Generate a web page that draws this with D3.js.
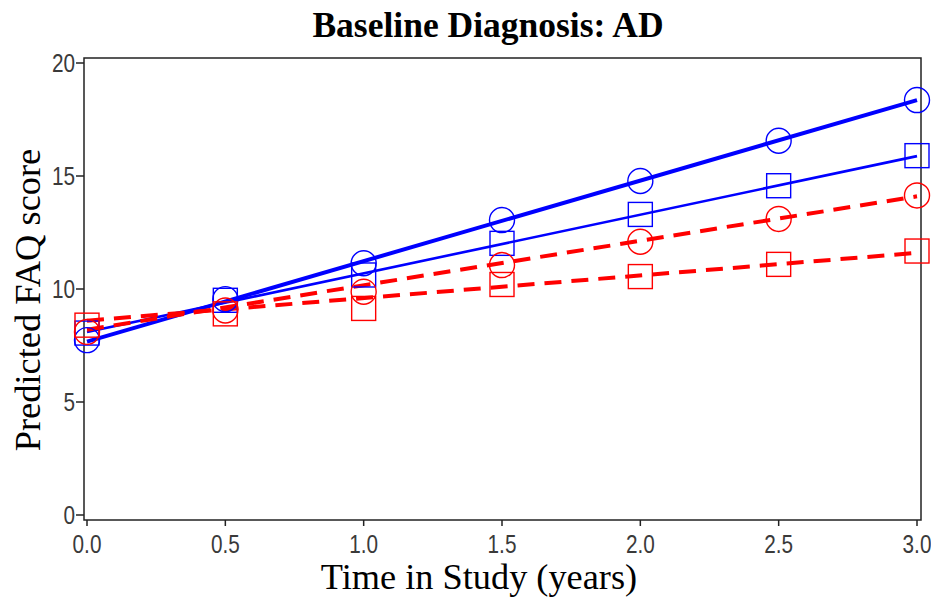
<!DOCTYPE html>
<html>
<head>
<meta charset="utf-8">
<script src="https://cdn.jsdelivr.net/npm/d3@7"></script>
<style>
  body { margin: 0; background: #fff; }
  .tick-label { font-family: "Liberation Sans", Arial, sans-serif; font-size: 25px; fill: #3a3a3a; }
  .serif { font-family: "Liberation Serif", "Times New Roman", serif; fill: #000; }
</style>
</head>
<body>
<script>
const width = 931;
const height = 602;

// observed time points (years)
const times = [0, 0.5, 1, 1.5, 2, 2.5, 3];
// predicted FAQ score at each time point
const blueCircle = [7.74, 9.55, 11.14, 13.05, 14.78, 16.56, 18.36];
const blueSquare = [8.05, 9.5, 10.62, 12.02, 13.3, 14.57, 15.9];
const redCircle  = [8.1, 9.05, 9.88, 11.06, 12.09, 13.1, 14.14];
const redSquare  = [8.4, 8.9, 9.14, 10.2, 10.55, 11.09, 11.68];

// straight fitted lines, start and end values
const fitTimes = [0, 3];
const blueCircleFit = [7.67, 18.36];
const blueSquareFit = [8.1, 15.88];
const redCircleFit  = [8.2, 14.1];
const redSquareFit  = [8.6, 11.6];

const xTicks = [0, 0.5, 1, 1.5, 2, 2.5, 3];
const yTicks = [0, 5, 10, 15, 20];

// plot frame
const frame = {left: 84, right: 921, top: 58, bottom: 520};
const narrow = 0.83; // tick font in the picture is a condensed sans

const x = d3.scaleLinear()
  .domain([0, 3])
  .range([frame.left + 3, frame.right - 4]);

const y = d3.scaleLinear()
  .domain([0, 20])
  .range([frame.bottom - 5, frame.top + 5]);

const svg = d3.select('body').append('svg')
  .attr('width', width)
  .attr('height', height);

// frame box
svg.append('rect')
  .attr('x', frame.left)
  .attr('y', frame.top)
  .attr('width', frame.right - frame.left)
  .attr('height', frame.bottom - frame.top)
  .attr('fill', 'none')
  .attr('stroke', '#222')
  .attr('stroke-width', 1.5);

// x ticks + labels
const xg = svg.append('g');
xg.selectAll('line')
  .data(xTicks)
  .enter().append('line')
    .attr('x1', d => x(d)).attr('x2', d => x(d))
    .attr('y1', frame.bottom).attr('y2', frame.bottom + 6)
    .attr('stroke', '#222').attr('stroke-width', 1.5);
xg.selectAll('text')
  .data(xTicks)
  .enter().append('text')
    .attr('class', 'tick-label')
    .attr('transform', d => `translate(${x(d)},553) scale(${narrow},1)`)
    .attr('text-anchor', 'middle')
    .text(d3.format('.1f'));

// y ticks + labels
const yg = svg.append('g');
yg.selectAll('line')
  .data(yTicks)
  .enter().append('line')
    .attr('x1', frame.left - 8).attr('x2', frame.left)
    .attr('y1', d => y(d)).attr('y2', d => y(d))
    .attr('stroke', '#222').attr('stroke-width', 1.5);
yg.selectAll('text')
  .data(yTicks)
  .enter().append('text')
    .attr('class', 'tick-label')
    .attr('transform', d => `translate(${frame.left - 9},${y(d)}) scale(${narrow},1)`)
    .attr('dy', '0.36em')
    .attr('text-anchor', 'end')
    .text(d => d);

// fitted lines
const fits = [
  {vals: blueCircleFit, color: '#0000ff', w: 4,   dash: null},
  {vals: blueSquareFit, color: '#0000ff', w: 2.6, dash: null},
  {vals: redCircleFit,  color: '#ff0000', w: 4,   dash: '17,10'},
  {vals: redSquareFit,  color: '#ff0000', w: 4,   dash: '17,10'}
];

const line = d3.line()
  .x(d => x(d[0]))
  .y(d => y(d[1]));

svg.append('g').selectAll('path')
  .data(fits)
  .enter().append('path')
    .attr('d', d => line(fitTimes.map((t, i) => [t, d.vals[i]])))
    .attr('fill', 'none')
    .attr('stroke', d => d.color)
    .attr('stroke-width', d => d.w)
    .attr('stroke-dasharray', d => d.dash);

// observed markers
const markers = [
  {vals: blueCircle, color: '#0000ff', shape: 'circle'},
  {vals: blueSquare, color: '#0000ff', shape: 'square'},
  {vals: redCircle,  color: '#ff0000', shape: 'circle'},
  {vals: redSquare,  color: '#ff0000', shape: 'square'}
];

const mg = svg.append('g');
markers.forEach(m => {
  const pts = times.map((t, i) => [t, m.vals[i]]);
  if (m.shape === 'circle') {
    mg.selectAll(null)
      .data(pts)
      .enter().append('circle')
        .attr('cx', d => x(d[0]))
        .attr('cy', d => y(d[1]))
        .attr('r', 12.5)
        .attr('fill', 'none')
        .attr('stroke', m.color)
        .attr('stroke-width', 1.4);
  } else {
    mg.selectAll(null)
      .data(pts)
      .enter().append('rect')
        .attr('x', d => x(d[0]) - 12)
        .attr('y', d => y(d[1]) - 12)
        .attr('width', 24)
        .attr('height', 24)
        .attr('fill', 'none')
        .attr('stroke', m.color)
        .attr('stroke-width', 1.4);
  }
});

// titles
svg.append('text')
  .attr('class', 'serif')
  .attr('x', 488)
  .attr('y', 37)
  .attr('text-anchor', 'middle')
  .attr('font-size', 35.5)
  .attr('font-weight', 'bold')
  .text('Baseline Diagnosis: AD');

svg.append('text')
  .attr('class', 'serif')
  .attr('x', 479)
  .attr('y', 589)
  .attr('text-anchor', 'middle')
  .attr('font-size', 36.3)
  .text('Time in Study (years)');

svg.append('text')
  .attr('class', 'serif')
  .attr('transform', 'translate(40,300) rotate(-90)')
  .attr('text-anchor', 'middle')
  .attr('font-size', 36.4)
  .text('Predicted FAQ score');
</script>
</body>
</html>
